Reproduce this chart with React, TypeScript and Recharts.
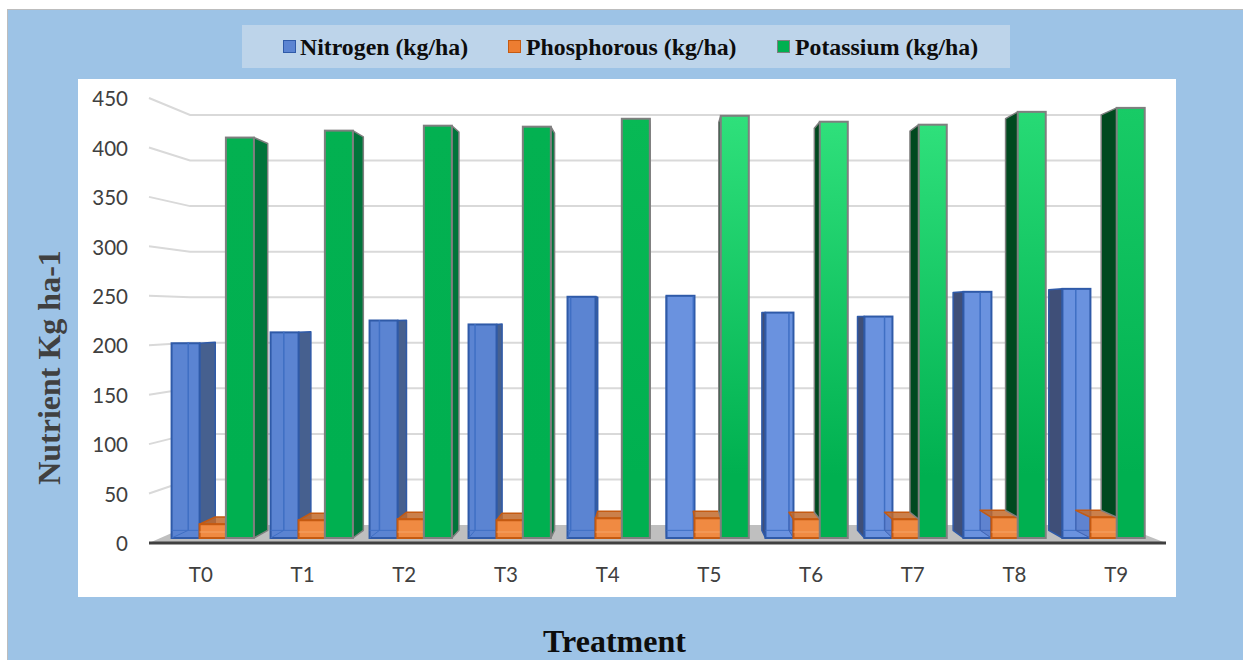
import React from "react";
import { BarChart, Bar, XAxis, YAxis, CartesianGrid, Legend } from "recharts";

const categories = ["T0", "T1", "T2", "T3", "T4", "T5", "T6", "T7", "T8", "T9"];
const nitrogen = [202, 213, 225, 221, 249, 250, 233, 229, 254, 257];
const phosphorous = [19, 23, 24, 23, 25, 25, 24, 24, 26, 26];
const potassium = [410, 417, 422, 421, 429, 432, 426, 423, 436, 440];
const yTicks = [0, 50, 100, 150, 200, 250, 300, 350, 400, 450];
const seriesNames = ["Nitrogen (kg/ha)", "Phosphorous (kg/ha)", "Potassium (kg/ha)"];

const rows = categories.map((name, i) => ({
  name,
  n: nitrogen[i],
  p: phosphorous[i],
  k: potassium[i],
}));

// perspective of the picture
const VX = 660;
const VY = 313;
const DEPTH = 0.034;
const backX = (x: number) => x + DEPTH * (VX - x);
const backY = (y: number) => y + DEPTH * (VY - y);
const pts = (a: number[][]) => a.map((p) => p.join(",")).join(" ");

const greenTop = (i: number) => (i < 4 ? "#03b151" : i === 4 ? "#08b955" : i === 8 ? "#27da75" : i === 9 ? "#18cb66" : "#2fe07b");
const greenSide = (i: number) => (i < 4 ? "#00743a" : "#00491f");

function Box(props: any) {
  const { x, y, width, height, index, kind, payload } = props;
  const shift = 13 - 2.72 * index - (kind === "k" ? 1.7 : 0);
  const xL = x + shift;
  const xR = xL + width;
  const top = y;
  const floor = y + height;
  const bot = floor - 5;
  const rightSide = xR < VX;
  const leftSide = xL > VX;
  const edgeX = rightSide ? xR : xL;
  const bEdge = backX(edgeX);

  if (kind === "k") {
    const gid = `kfront${index}`;
    const sideBot = leftSide ? floor - (payload.p * height) / payload.k : bot;
    const stroke = "#7f7f7f";
    return (
      <g>
        <defs>
          <linearGradient id={gid} x1="0" y1="0" x2="0" y2="1">
            <stop offset="0" stopColor={greenTop(index)} />
            <stop offset="0.85" stopColor="#00b050" />
          </linearGradient>
        </defs>
        {(rightSide || leftSide) && (
          <polygon
            points={pts([[edgeX, top], [bEdge, backY(top)], [bEdge, backY(sideBot)], [edgeX, sideBot]])}
            fill={greenSide(index)}
            stroke={stroke}
            strokeWidth={1.5}
            strokeLinejoin="round"
          />
        )}
        <rect x={xL} y={top} width={width} height={bot - top} fill={`url(#${gid})`} stroke={stroke} strokeWidth={2} />
      </g>
    );
  }

  if (kind === "n") {
    const stroke = "#2f5aa8";
    const front = index < 5 ? "#5b84d2" : "#6a92df";
    const side = rightSide ? "#46608f" : "#3f4f78";
    const inner = rightSide ? backX(xL) : backX(xR);
    return (
      <g>
        {(rightSide || leftSide) && (
          <polygon
            points={pts([[edgeX, top], [bEdge, backY(top)], [bEdge, backY(bot)], [edgeX, bot]])}
            fill={side}
            stroke={stroke}
            strokeWidth={1.5}
            strokeLinejoin="round"
          />
        )}
        <rect x={xL} y={top} width={width} height={bot - top} fill={front} stroke={stroke} strokeWidth={2} />
        <line x1={inner} y1={backY(top)} x2={inner} y2={backY(bot)} stroke="#3f6fc4" strokeWidth={1.5} />
        <line x1={xL} y1={backY(bot)} x2={xR} y2={backY(bot)} stroke="#3f6fc4" strokeWidth={1} />
        <line x1={rightSide ? xL : xR} y1={bot} x2={inner} y2={backY(bot)} stroke="#3f6fc4" strokeWidth={1} />
      </g>
    );
  }

  const bL = backX(xL);
  const bR = backX(xR);
  const stroke = "#c55a11";
  return (
    <g>
      {leftSide && (
        <polygon
          points={pts([[xL, top], [bL, backY(top)], [bL, backY(bot)], [xL, bot]])}
          fill="#3a4f9a"
          fillOpacity={0.22}
          stroke="#4a62a8"
          strokeOpacity={0.4}
        />
      )}
      <polygon
        points={pts([[xL, top], [xR, top], [bR, backY(top)], [bL, backY(top)]])}
        fill="#c26a2c"
        fillOpacity={0.85}
        stroke={stroke}
        strokeWidth={1.5}
        strokeLinejoin="round"
      />
      <rect x={xL} y={top} width={width} height={bot - top} fill="#f08a42" stroke={stroke} strokeWidth={2} />
      <line x1={xL} y1={bot - 6} x2={xR} y2={bot - 6} stroke="#f5a468" strokeWidth={1} />
    </g>
  );
}

function gridLine(props: any) {
  const { y1, index } = props;
  const wallLeft = 190;
  const wallRight = 1120;
  const wallY = 525 - ((543 - y1) * 410) / 445;
  const floor =
    y1 > 540 ? (
      <polygon points={pts([[wallLeft, 525], [wallRight, 525], [1166, 543], [149, 543]])} fill="#bfbfbf" />
    ) : (
      <polyline
        points={pts([[149, y1], [wallLeft, wallY], [wallRight, wallY]])}
        fill="none"
        stroke="#d9d9d9"
        strokeWidth={2}
      />
    );
  return <g key={`grid-${index}`}>{floor}</g>;
}

const legendColors = [
  { fill: "#5b84d2", stroke: "#2f5aa8", left: 41, textLeft: 58 },
  { fill: "#ed7d31", stroke: "#c55a11", left: 266, textLeft: 284 },
  { fill: "#00b050", stroke: "#7f7f7f", left: 535, textLeft: 553 },
];

function LegendContent() {
  return (
    <div style={{ position: "relative", width: 768, height: 43, background: "#bdd4ea" }}>
      {seriesNames.map((name, i) => (
        <React.Fragment key={name}>
          <div
            style={{
              position: "absolute",
              left: legendColors[i].left,
              top: 15,
              width: 11,
              height: 11,
              background: legendColors[i].fill,
              border: `1.5px solid ${legendColors[i].stroke}`,
            }}
          />
          <div
            style={{
              position: "absolute",
              left: legendColors[i].textLeft,
              top: 9,
              fontFamily: "'Liberation Serif', serif",
              fontWeight: 700,
              fontSize: 23.8,
              lineHeight: "26px",
              color: "#0d0d0d",
              whiteSpace: "nowrap",
            }}
          >
            {name}
          </div>
        </React.Fragment>
      ))}
    </div>
  );
}

const tickStyle = { fontFamily: "Lato, sans-serif", fontSize: 20.5, fill: "#404040" };

export default function App() {
  return (
    <div style={{ position: "absolute", left: 0, top: 0, width: 1243, height: 660, overflow: "hidden", background: "#fff" }}>
      <div
        style={{
          position: "absolute",
          left: 7,
          top: 9,
          width: 1236,
          height: 651,
          boxSizing: "border-box",
          background: "#9dc3e6",
          borderLeft: "1px solid #bdbdbd",
          borderTop: "1px solid #bdbdbd",
        }}
      />
      <div style={{ position: "absolute", left: 78, top: 79, width: 1098, height: 518, background: "#fff" }} />
      <div style={{ position: "absolute", left: 0, top: 0 }}>
        <BarChart
          width={1243}
          height={660}
          data={rows}
          margin={{ top: 55, right: 77, bottom: 67, left: 89 }}
          barCategoryGap={9.6}
          barGap={0}
        >
          <CartesianGrid vertical={false} horizontal={gridLine} />
          <XAxis
            dataKey="name"
            axisLine={{ stroke: "#404040", strokeWidth: 3 }}
            tickLine={false}
            tickSize={0}
            tickMargin={24}
            height={50}
            tick={{ ...tickStyle, dx: 1 }}
            label={{
              value: "Treatment",
              position: "bottom",
              dx: -43,
              dy: 31,
              style: { fontFamily: "'Liberation Serif', serif", fontWeight: 700, fontSize: 32, fill: "#0d0d0d" },
            }}
          />
          <YAxis
            domain={[0, 450]}
            ticks={yTicks}
            width={60}
            axisLine={false}
            tickLine={false}
            tickSize={0}
            tickMargin={21}
            tick={{ ...tickStyle, dy: 1 }}
            label={{
              value: "Nutrient Kg ha-1",
              angle: -90,
              position: "left",
              dx: -35,
              dy: 47,
              style: { fontFamily: "'Liberation Serif', serif", fontWeight: 700, fontSize: 32, fill: "#404040", textAnchor: "middle" },
            }}
          />
          <Legend
            verticalAlign="top"
            content={LegendContent}
            wrapperStyle={{ left: 242, top: 25, width: 768, height: 43 }}
          />
          <Bar dataKey="n" name={seriesNames[0]} isAnimationActive={false} shape={(p: any) => <Box {...p} kind="n" />} />
          <Bar dataKey="p" name={seriesNames[1]} isAnimationActive={false} shape={(p: any) => <Box {...p} kind="p" />} />
          <Bar dataKey="k" name={seriesNames[2]} isAnimationActive={false} shape={(p: any) => <Box {...p} kind="k" />} />
        </BarChart>
      </div>
    </div>
  );
}
